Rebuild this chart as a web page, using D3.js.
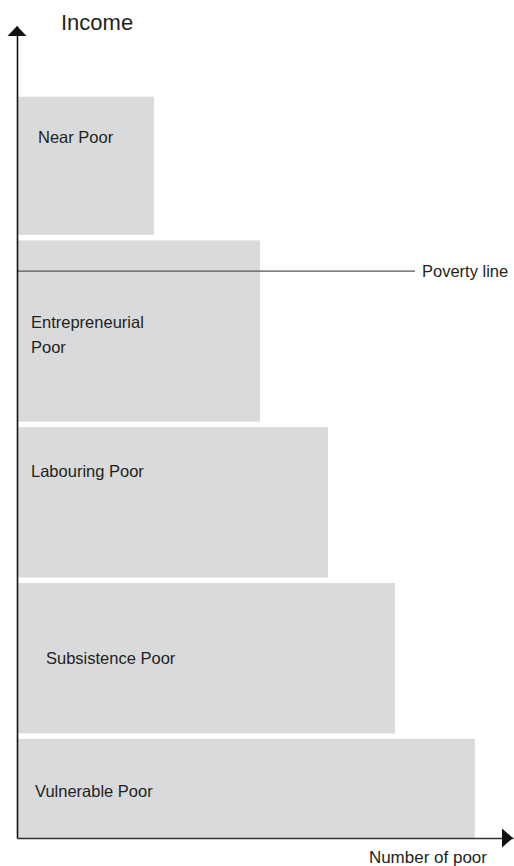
<!DOCTYPE html>
<html lang="en">
<head>
<meta charset="UTF-8">
<style>
  body { margin: 0; background: #fff; }
  svg text { font-family: "Liberation Sans", Arial, sans-serif; fill: #231f20; }
</style>
</head>
<body>
<script src="https://cdn.jsdelivr.net/npm/d3@7"></script>
<script>
// groups of the poor, from the bottom of the income scale upward
var categories = ["Vulnerable Poor", "Subsistence Poor", "Labouring Poor", "Entrepreneurial Poor", "Near Poor"]
var numberOfPoor = [92.3, 76.2, 62.7, 49.0, 27.6]
var incomeFrom = [0, 12.2, 31.4, 50.6, 73.6]
var incomeTo = [12.2, 31.4, 50.6, 73.6, 91.3]
var povertyLine = 69.8

// where each label sits inside its box (dx from axis, dy from box top)
var labelPos = [[18, 58], [29, 81], [14, 50], [14, 88], [21, 46]]

var width = 514, height = 866, gap = 5.5

var svg = d3.select('body').append('svg').attr('width', width).attr('height', height)

var x = d3.scaleLinear().domain([0, 100]).range([17, 513])
var y = d3.scaleLinear().domain([0, 100]).range([838, 26])

var rows = categories.map(function(c, i) {
  return { name: c, n: numberOfPoor[i], lo: incomeFrom[i], hi: incomeTo[i], pos: labelPos[i] }
})

// boxes
var g = svg.selectAll('.grp').data(rows).enter().append('g').attr('class', 'grp')

g.append('rect')
  .attr('x', x(0))
  .attr('y', function(d) { return y(d.hi) })
  .attr('width', function(d) { return x(d.n) - x(0) })
  .attr('height', function(d) { return y(d.lo) - y(d.hi) - (d.lo > 0 ? gap : 0) })
  .attr('fill', '#d9dadc')

g.append('text')
  .attr('x', function(d) { return x(0) + d.pos[0] })
  .attr('y', function(d) { return y(d.hi) + d.pos[1] })
  .style('font-size', '16.5px')
  .each(function(d) {
    var words = d.name == 'Entrepreneurial Poor' ? ['Entrepreneurial', 'Poor'] : [d.name]
    var t = d3.select(this)
    words.forEach(function(w, k) {
      t.append('tspan').attr('x', x(0) + d.pos[0]).attr('dy', k ? 25 : 0).text(w)
    })
  })

// poverty line
svg.append('line')
  .attr('x1', x(0)).attr('x2', 415)
  .attr('y1', y(povertyLine)).attr('y2', y(povertyLine))
  .attr('stroke', '#555').attr('stroke-width', 1.2)
svg.append('text')
  .attr('x', 422).attr('y', y(povertyLine) + 6)
  .style('font-size', '16.5px')
  .text('Poverty line')

// axes without ticks, arrowheads at the ends
var xAxis = svg.append('g').attr('transform', 'translate(0,' + y(0) + ')')
  .call(d3.axisBottom(x).tickValues([]).tickSizeOuter(0))
var yAxis = svg.append('g').attr('transform', 'translate(' + x(0) + ',0)')
  .call(d3.axisLeft(y).tickValues([]).tickSizeOuter(0))
xAxis.select('.domain').attr('stroke', '#333').attr('stroke-width', 1.6)
yAxis.select('.domain').attr('stroke', '#111').attr('stroke-width', 1.6)

svg.append('path')
  .attr('d', 'M' + x(100) + ',' + y(0) + 'l-11,-9.5l0,19z')
  .attr('fill', '#111')
svg.append('path')
  .attr('d', 'M' + x(0) + ',' + y(100) + 'l-9.5,10l19,0z')
  .attr('fill', '#111')

svg.append('text')
  .attr('x', 61).attr('y', 30)
  .style('font-size', '22px')
  .text('Income')

svg.append('text')
  .attr('x', 487).attr('y', 863)
  .attr('text-anchor', 'end')
  .style('font-size', '17px')
  .text('Number of poor')
</script>
</body>
</html>
